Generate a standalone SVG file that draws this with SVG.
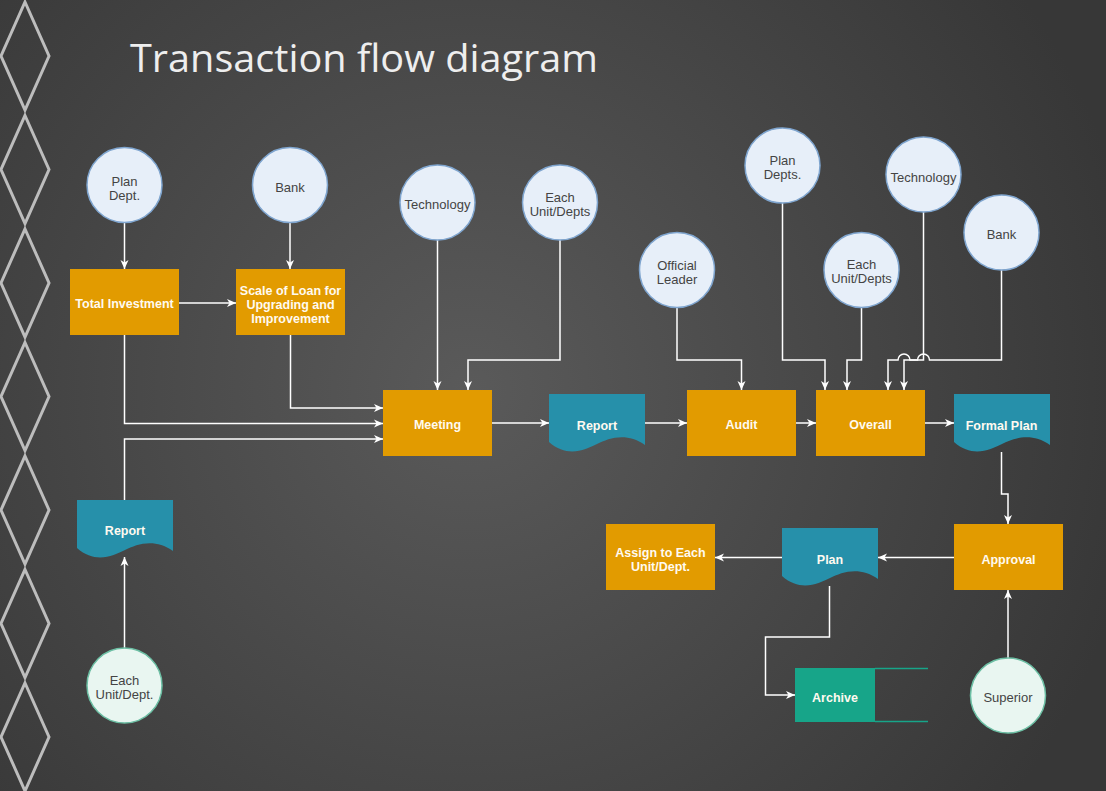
<svg xmlns="http://www.w3.org/2000/svg" xmlns:xlink="http://www.w3.org/1999/xlink" width="1106" height="791" viewBox="0 0 1106 791">
<defs>
  <radialGradient id="bg" gradientUnits="userSpaceOnUse" cx="470" cy="390" r="680">
    <stop offset="0" stop-color="#5a5a5a"/>
    <stop offset="1" stop-color="#373737"/>
  </radialGradient>
  <marker id="arr" markerUnits="userSpaceOnUse" markerWidth="10" markerHeight="10" viewBox="0 0 10 10" refX="9" refY="5" orient="auto">
    <path d="M0,1 L9,5 L0,9 L2.5,5 Z" fill="#ffffff"/>
  </marker>
  <path id="doc" d="M0,0 H96 V51 C78,38 60,44 48,50 C36,56 18,64 0,48 Z"/>
  <polygon id="dia" points="25,-54 49,0 25,54 1,0"/>
</defs>
<style>
  .proc { fill: #e29b00; }
  .docs { fill: #2690aa; }
  .circ { fill: #e7eff9; stroke: #7fa5cf; stroke-width: 1.5; }
  .circg { fill: #e9f6f1; stroke: #6cbfa4; stroke-width: 1.5; }
  .bt { font-family: "Liberation Sans", Arial, sans-serif; font-size: 12.5px; font-weight: bold; fill: #fffaf0; text-anchor: middle; }
  .ct { font-family: "Liberation Sans", Arial, sans-serif; font-size: 13px; fill: #444444; text-anchor: middle; }
  .conn path { fill: none; stroke: #ffffff; stroke-width: 1.5; marker-end: url(#arr); }
  .deco use { fill: none; stroke: #bdbdbd; stroke-width: 3; }
</style>
<rect x="0" y="0" width="1106" height="791" fill="url(#bg)"/>
<g id="decor" class="deco">
  <use xlink:href="#dia" href="#dia" x="0" y="56"/>
  <use xlink:href="#dia" href="#dia" x="0" y="169.5"/>
  <use xlink:href="#dia" href="#dia" x="0" y="283"/>
  <use xlink:href="#dia" href="#dia" x="0" y="396.5"/>
  <use xlink:href="#dia" href="#dia" x="0" y="510"/>
  <use xlink:href="#dia" href="#dia" x="0" y="623.5"/>
  <use xlink:href="#dia" href="#dia" x="0" y="737"/>
</g>
<text id="title" x="130" y="72" font-family="'Open Sans', 'Noto Sans', sans-serif" font-size="39" fill="#eeeeee" textLength="468" lengthAdjust="spacingAndGlyphs">Transaction flow diagram</text>

<g id="connectors" class="conn">
  <path d="M124.5,223 V269"/>
  <path d="M290,223 V269"/>
  <path d="M179,303 H236"/>
  <path d="M124.5,335 V423.5 H383"/>
  <path d="M290.5,335 V408 H383"/>
  <path d="M124.5,500 V439 H383"/>
  <path d="M437.5,240 V390"/>
  <path d="M560,240 V360 H468 V390"/>
  <path d="M492,423 H549"/>
  <path d="M645,423 H687"/>
  <path d="M677,307.5 V360 H741.5 V390"/>
  <path d="M796,423 H816"/>
  <path d="M782.5,203 V360 H825 V390"/>
  <path d="M861.5,307.5 V360 H847 V390"/>
  <path d="M923.5,212 V360 H910 A6,6 0 0 0 898,360 H888 V390"/>
  <path d="M1001.5,270 V360 H929.5 A6,6 0 0 0 917.5,360 H904 V390"/>
  <path d="M925,423 H954"/>
  <path d="M1001.5,452 V494 H1008 V524"/>
  <path d="M954,557.5 H878"/>
  <path d="M782,557.5 H715"/>
  <path d="M829.5,586 V637 H765.5 V695 H795"/>
  <path d="M1008,658 V590"/>
  <path d="M124.5,648 V557"/>
</g>

<g id="n-plandept"><circle class="circ" cx="124.5" cy="185" r="37.5"/><text class="ct" x="124.5" y="185.5">Plan</text><text class="ct" x="124.5" y="199.5">Dept.</text></g>
<g id="n-bank1"><circle class="circ" cx="290" cy="185" r="37.5"/><text class="ct" x="290" y="192">Bank</text></g>
<g id="n-totalinv"><rect class="proc" x="70" y="269" width="109" height="66"/><text class="bt" x="124.5" y="307.5">Total Investment</text></g>
<g id="n-scaleloan"><rect class="proc" x="236" y="269" width="109" height="66"/><text class="bt" x="290.5" y="295">Scale of Loan for</text><text class="bt" x="290.5" y="309">Upgrading and</text><text class="bt" x="290.5" y="323">Improvement</text></g>
<g id="n-tech1"><circle class="circ" cx="437.5" cy="202.5" r="37.5"/><text class="ct" x="437.5" y="209">Technology</text></g>
<g id="n-eachunit1"><circle class="circ" cx="560" cy="202.5" r="37.5"/><text class="ct" x="560" y="201.5">Each</text><text class="ct" x="560" y="215.5">Unit/Depts</text></g>
<g id="n-meeting"><rect class="proc" x="383" y="390" width="109" height="66"/><text class="bt" x="437.5" y="429">Meeting</text></g>
<g id="n-report1"><use xlink:href="#doc" href="#doc" class="docs" x="549" y="394"/><text class="bt" x="597" y="430">Report</text></g>
<g id="n-official"><circle class="circ" cx="677" cy="270" r="37.5"/><text class="ct" x="677" y="270">Official</text><text class="ct" x="677" y="283.5">Leader</text></g>
<g id="n-audit"><rect class="proc" x="687" y="390" width="109" height="66"/><text class="bt" x="741.5" y="429">Audit</text></g>
<g id="n-plandepts"><circle class="circ" cx="782.5" cy="165.5" r="37.5"/><text class="ct" x="782.5" y="165">Plan</text><text class="ct" x="782.5" y="179">Depts.</text></g>
<g id="n-eachunit2"><circle class="circ" cx="861.5" cy="270" r="37.5"/><text class="ct" x="861.5" y="269">Each</text><text class="ct" x="861.5" y="283">Unit/Depts</text></g>
<g id="n-tech2"><circle class="circ" cx="923.5" cy="174.5" r="37.5"/><text class="ct" x="923.5" y="181.5">Technology</text></g>
<g id="n-bank2"><circle class="circ" cx="1001.5" cy="232.5" r="37.5"/><text class="ct" x="1001.5" y="239">Bank</text></g>
<g id="n-overall"><rect class="proc" x="816" y="390" width="109" height="66"/><text class="bt" x="870.5" y="429">Overall</text></g>
<g id="n-formalplan"><use xlink:href="#doc" href="#doc" class="docs" x="954" y="394"/><text class="bt" x="1001.5" y="430">Formal Plan</text></g>
<g id="n-approval"><rect class="proc" x="954" y="524" width="109" height="66"/><text class="bt" x="1008.5" y="563.5">Approval</text></g>
<g id="n-plan"><use xlink:href="#doc" href="#doc" class="docs" x="782" y="528"/><text class="bt" x="830" y="564">Plan</text></g>
<g id="n-assign"><rect class="proc" x="606" y="524" width="109" height="66"/><text class="bt" x="660.5" y="557">Assign to Each</text><text class="bt" x="660.5" y="571">Unit/Dept.</text></g>
<g id="n-archive"><rect x="795" y="668" width="80" height="54" fill="#17a589"/><path d="M875,668.5 H928 M875,721.5 H928" stroke="#17a589" stroke-width="1.5" fill="none"/><text class="bt" x="835" y="701.5">Archive</text></g>
<g id="n-superior"><circle class="circg" cx="1008" cy="695.5" r="37.5"/><text class="ct" x="1008" y="702">Superior</text></g>
<g id="n-report2"><use xlink:href="#doc" href="#doc" class="docs" x="77" y="500"/><text class="bt" x="125" y="535">Report</text></g>
<g id="n-eachunit3"><circle class="circg" cx="124.5" cy="685.5" r="37.5"/><text class="ct" x="124.5" y="685">Each</text><text class="ct" x="124.5" y="699">Unit/Dept.</text></g>
</svg>
